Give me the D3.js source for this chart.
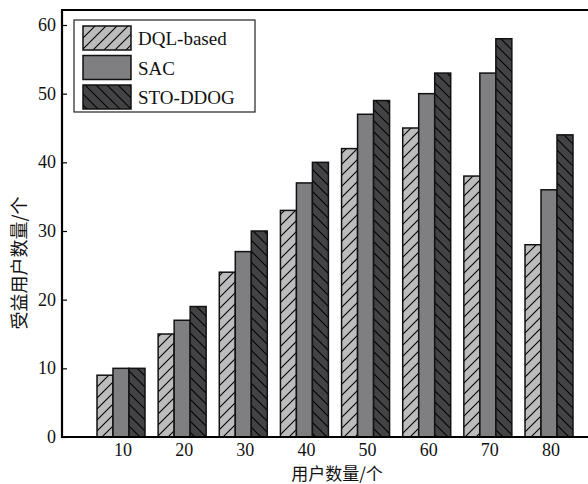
<!DOCTYPE html>
<html>
<head>
<meta charset="utf-8">
<script src="https://cdn.jsdelivr.net/npm/d3@7"></script>
<style>
  body { margin: 0; background: #fff; }
  svg text { font-family: "Liberation Serif", "DejaVu Serif", serif; }
  .cjk { font-family: "Noto Sans CJK SC", sans-serif; }
</style>
</head>
<body>
<div id="chart"></div>
<script>
// data
const userCounts = [10, 20, 30, 40, 50, 60, 70, 80];
const dqlBased = [9, 15, 24, 33, 42, 45, 38, 28];
const sac = [10, 17, 27, 37, 47, 50, 53, 36];
const stoDdog = [10, 19, 30, 40, 49, 53, 58, 44];
const seriesNames = ['DQL-based', 'SAC', 'STO-DDOG'];
const yTicks = [0, 10, 20, 30, 40, 50, 60];

const series = [
  {name: seriesNames[0], values: dqlBased, fill: 'url(#hatchFwd)'},
  {name: seriesNames[1], values: sac, fill: '#7f7f82'},
  {name: seriesNames[2], values: stoDdog, fill: 'url(#hatchBack)'},
];

const W = 588, H = 484;
const plotLeft = 62, plotTop = 10, plotBottom = 437;
const barW = 16;

const svg = d3.select('#chart').append('svg')
  .attr('width', W)
  .attr('height', H);

// hatch patterns
const defs = svg.append('defs');
function hatch(id, bg, dir) {
  let p = defs.append('pattern')
    .attr('id', id)
    .attr('patternUnits', 'userSpaceOnUse')
    .attr('width', 11)
    .attr('height', 11);
  p.append('rect').attr('width', 11).attr('height', 11).attr('fill', bg);
  let d = dir > 0 ?
    'M-2,13 L13,-2 M-2,2 L2,-2 M9,13 L13,9' :
    'M-2,-2 L13,13 M-2,9 L2,13 M9,-2 L13,2';
  p.append('path').attr('d', d)
    .attr('stroke', '#000').attr('stroke-width', 1.1).attr('fill', 'none');
}
hatch('hatchFwd', '#bcbcbc', 1);
hatch('hatchBack', '#434345', -1);

const x = d3.scaleLinear().domain([10, 80]).range([121, 549]);
const y = d3.scaleLinear().domain([0, 60]).range([plotBottom, 25]);

// bars
series.forEach(function(s, si) {
  svg.append('g').selectAll('rect')
    .data(s.values)
    .enter()
    .append('rect')
    .attr('x', function(d, i) {
      return x(userCounts[i]) + (si - 1.5) * barW;
    })
    .attr('y', function(d) { return y(d); })
    .attr('width', barW)
    .attr('height', function(d) { return y(0) - y(d); })
    .attr('fill', s.fill)
    .attr('stroke', '#111')
    .attr('stroke-width', 1.5);
});

// frame: left, top, bottom
svg.append('path')
  .attr('d', 'M' + W + ',' + plotTop + ' H' + plotLeft + ' V' + plotBottom +
    ' H' + W)
  .attr('fill', 'none')
  .attr('stroke', '#000')
  .attr('stroke-width', 2.2);

// y axis, ticks pointing inward
const yAxis = svg.append('g')
  .attr('transform', 'translate(' + plotLeft + ',0)')
  .call(d3.axisRight(y).tickValues(yTicks).tickSize(5).tickFormat(''));
yAxis.select('.domain').remove();
yAxis.selectAll('line').attr('stroke', '#000').attr('stroke-width', 1.2);

svg.append('g').selectAll('text')
  .data(yTicks)
  .enter()
  .append('text')
  .attr('x', plotLeft - 6)
  .attr('y', function(d) { return y(d) + 6; })
  .attr('text-anchor', 'end')
  .attr('font-size', 18)
  .attr('fill', '#111')
  .text(function(d) { return d; });

// x tick labels
svg.append('g').selectAll('text')
  .data(userCounts)
  .enter()
  .append('text')
  .attr('x', function(d) { return x(d) + 2; })
  .attr('y', 456)
  .attr('text-anchor', 'middle')
  .attr('font-size', 18)
  .attr('fill', '#111')
  .text(function(d) { return d; });

// axis titles
svg.append('text')
  .attr('class', 'cjk')
  .attr('x', 337)
  .attr('y', 480)
  .attr('text-anchor', 'middle')
  .attr('font-size', 17)
  .attr('fill', '#111')
  .text('用户数量/个');

svg.append('text')
  .attr('class', 'cjk')
  .attr('transform', 'translate(26,263) rotate(-90)')
  .attr('text-anchor', 'middle')
  .attr('font-size', 18)
  .attr('fill', '#111')
  .text('受益用户数量/个');

// legend
const legend = svg.append('g');
legend.append('rect')
  .attr('x', 74).attr('y', 20)
  .attr('width', 181).attr('height', 92)
  .attr('fill', '#fff')
  .attr('stroke', '#222')
  .attr('stroke-width', 1.2);
series.forEach(function(s, i) {
  let yy = 26 + i * 29.5;
  legend.append('rect')
    .attr('x', 83).attr('y', yy)
    .attr('width', 48).attr('height', 24)
    .attr('fill', s.fill)
    .attr('stroke', '#111')
    .attr('stroke-width', 1.5);
  legend.append('text')
    .attr('x', 138).attr('y', yy + 19)
    .attr('font-size', 19)
    .attr('fill', '#111')
    .text(s.name);
});
</script>
</body>
</html>
